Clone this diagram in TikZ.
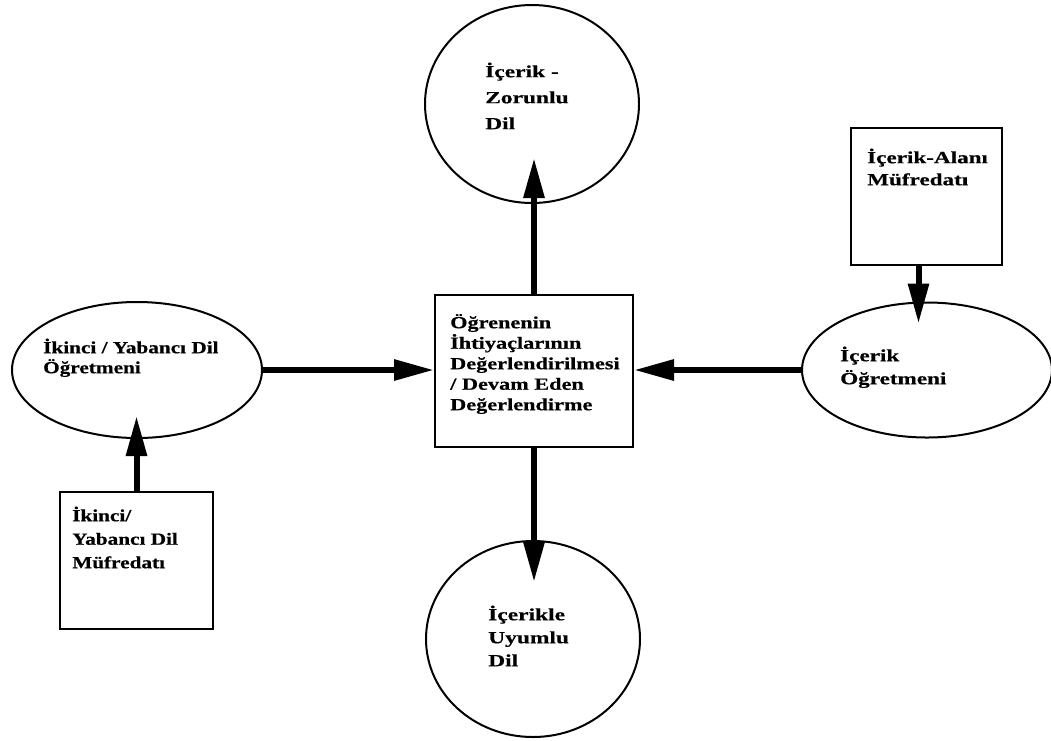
\documentclass[tikz,border=0pt]{standalone}
\usepackage{fontspec}
\newfontfamily\tfa{Liberation Serif}[FakeStretch=1.25,FakeBold=0.5]
\newfontfamily\tfb{Liberation Serif}[FakeStretch=1.31,FakeBold=0.5]
\newfontfamily\tfc{Liberation Serif}[FakeStretch=1.36,FakeBold=0.5]
\newfontfamily\tfd{Liberation Serif}[FakeStretch=1.38,FakeBold=0.5]
\usetikzlibrary{shapes.geometric,arrows.meta}
\begin{document}
\begin{tikzpicture}[x=1pt,y=-1pt,
  shp/.style={draw, line width=2pt, inner sep=0pt},
  oval/.style={shp, ellipse},
  boxn/.style={shp, rectangle},
  arr/.style={line width=6pt, -{Triangle[length=40pt,width=20pt]}},
  txt/.style={anchor=north west, inner sep=0pt, align=left}]
\useasboundingbox (0,0) rectangle (1051,740);
% shapes
\node[oval, minimum width=214pt, minimum height=198pt] (topc) at (532,104) {};
\node[oval, minimum width=214pt, minimum height=196pt] (botc) at (533,639) {};
\node[oval, minimum width=250pt, minimum height=136pt] (leftE) at (137,370) {};
\node[oval, minimum width=250pt, minimum height=135pt] (rightE) at (927,370) {};
\node[boxn, minimum width=198pt, minimum height=152pt] (cbox) at (534,371) {};
\node[boxn, minimum width=151pt, minimum height=137pt] (rbox) at (926.5,196.5) {};
\node[boxn, minimum width=153pt, minimum height=137pt] (blbox) at (136.5,560.5) {};
% texts
\node[txt, font=\tfd\bfseries\fontsize{17}{26}\selectfont] (ttop) at (485,61) {\rule{0pt}{16pt}İçerik -\\Zorunlu\\Dil};
\node[txt, font=\tfd\bfseries\fontsize{17}{23}\selectfont] (tbot) at (488,604) {\rule{0pt}{16pt}İçerikle\\Uyumlu\\Dil};
\node[txt, font=\tfb\bfseries\fontsize{17}{20.5}\selectfont] (tcen) at (450,312) {\rule{0pt}{16pt}Öğrenenin\\İhtiyaçlarının\\Değerlendirilmesi\\/ Devam Eden\\Değerlendirme};
\node[txt, font=\tfa\bfseries\fontsize{17}{20}\selectfont] (tleft) at (43,337) {\rule{0pt}{16pt}İkinci / Yabancı Dil\\Öğretmeni};
\node[txt, font=\tfc\bfseries\fontsize{17}{23}\selectfont] (tright) at (840,345) {\rule{0pt}{16pt}İçerik\\Öğretmeni};
\node[txt, font=\tfc\bfseries\fontsize{17}{22}\selectfont] (trbox) at (867,147) {\rule{0pt}{16pt}İçerik-Alanı\\Müfredatı};
\node[txt, font=\tfa\bfseries\fontsize{17}{23.5}\selectfont] (tbl) at (72,505) {\rule{0pt}{16pt}İkinci/\\Yabancı Dil\\Müfredatı};
% arrows
\coordinate (t1) at ([yshift=46pt]topc.south);
\coordinate (t2) at ([yshift=-42pt]botc.north);
\coordinate (t3) at ([yshift=-22pt]rightE.north);
\coordinate (t4) at ([yshift=23pt]leftE.south);
\draw[arr] (cbox.north) -- (cbox.north |- t1);
\draw[arr] (cbox.south) -- (cbox.south |- t2);
\draw[arr] (leftE.east) -- (leftE.east -| cbox.west);
\draw[arr] (rightE.west) -- (rightE.west -| cbox.east);
\draw[arr] ([xshift=-8pt]rbox.south) -- ([xshift=-8pt]rbox.south |- t3);
\draw[arr] (blbox.north) -- (blbox.north |- t4);
\end{tikzpicture}
\end{document}
